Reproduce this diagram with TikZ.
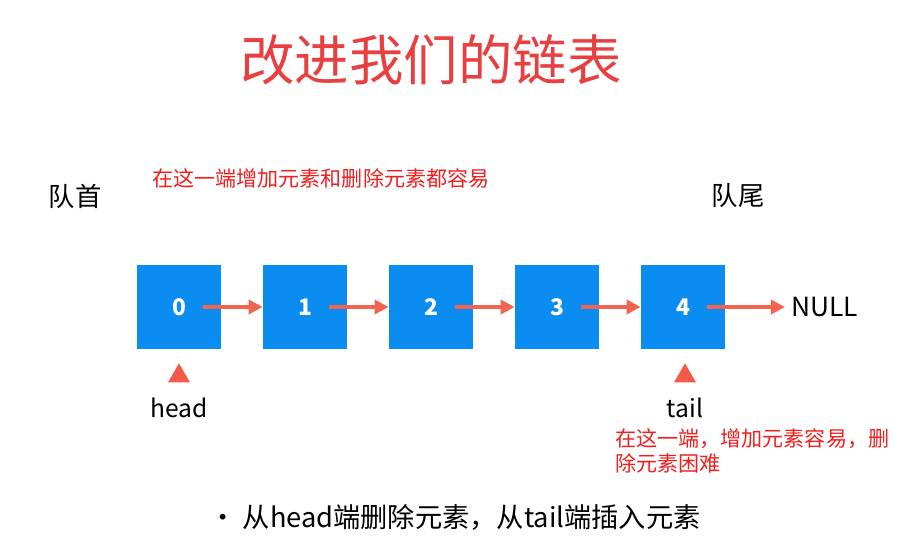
\documentclass[tikz,border=0pt]{standalone}
\usepackage{fontspec}
\setmainfont{Noto Sans CJK SC}
\usetikzlibrary{arrows.meta,shapes.geometric}
\definecolor{boxblue}{RGB}{10,140,240}
\definecolor{arrred}{RGB}{242,100,80}
\definecolor{txtred}{RGB}{240,30,30}
\definecolor{titlered}{RGB}{232,64,64}
\tikzset{
	elem/.style={draw=none,fill=boxblue,minimum width=1.68cm,minimum height=1.7cm,inner sep=0pt,text=white,font=\fontsize{13}{15}\selectfont\bfseries},
	link/.style={arrred,line width=2pt,-{Triangle[length=8pt,width=8pt]}},
	ptr/.style={isosceles triangle,shape border rotate=90,isosceles triangle apex angle=60,fill=arrred!90!red,draw=none,inner sep=0pt,minimum height=0.38cm},
	lbl/.style={font=\fontsize{14}{16}\selectfont},
	note/.style={text=txtred,font=\fontsize{12}{14}\selectfont,anchor=west}
}
\begin{document}
\begin{tikzpicture}[x=0.02cm,y=-0.02cm]
	\useasboundingbox (0,0) rectangle (900,547);
	\node[text=titlered,font=\fontsize{31}{34}\selectfont] (title) at (431,60) {改进我们的链表};
	
	\node[elem] (n0) at (179,307) {0};
	\node[elem] (n1) at (305,307) {1};
	\node[elem] (n2) at (431,307) {2};
	\node[elem] (n3) at (557,307) {3};
	\node[elem] (n4) at (683,307) {4};
	\node[font=\fontsize{15}{17}\selectfont,anchor=west] (null) at (785,307) {NULL};
	
	\coordinate (s0) at (203,307);
	\coordinate (s1) at (329,307);
	\coordinate (s2) at (455,307);
	\coordinate (s3) at (581,307);
	\coordinate (s4) at (707,307);
	\draw[link] (s0) -- (n1.west);
	\draw[link] (s1) -- (n2.west);
	\draw[link] (s2) -- (n3.west);
	\draw[link] (s3) -- (n4.west);
	\draw[link] (s4) -- (null.west);
	
	\node[ptr] (hm) at (179,376) {};
	\node[ptr] (tm) at (685,376) {};
	\node[lbl] (head) at (179,408) {head};
	\node[lbl] (tail) at (685,408) {tail};
	
	\node[lbl,font=\fontsize{15}{17}\selectfont] (front) at (75,196) {队首};
	\node[lbl,font=\fontsize{15}{17}\selectfont] (rear) at (738,196) {队尾};
	
	\node[note] (n-front) at (146,178) {在这一端增加元素和删除元素都容易};
	\node[note,align=left] (n-rear) at (609,451) {在这一端，增加元素容易，删\\除元素困难};
	
	\node[lbl,font=\fontsize{15.5}{18}\selectfont] (summary) at (455,517) {• 从head端删除元素，从tail端插入元素};
\end{tikzpicture}
\end{document}
